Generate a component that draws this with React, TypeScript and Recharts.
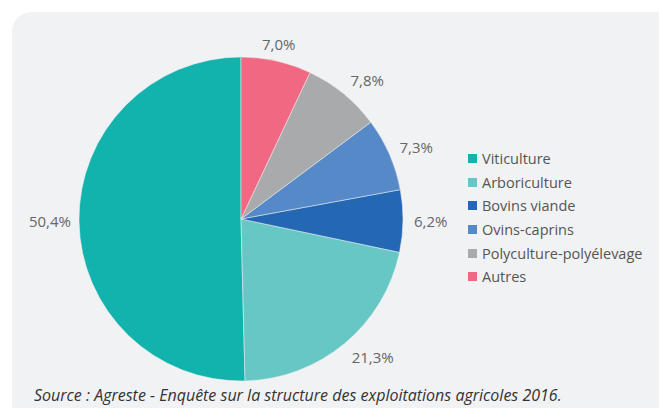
import { PieChart, Pie, Cell, Legend } from "recharts"

const categories = ["Viticulture", "Arboriculture", "Bovins viande", "Ovins-caprins", "Polyculture-polyélevage", "Autres"]
const shares = [50.4, 21.3, 6.2, 7.3, 7.8, 7.0]
const colors = ["#12b3ac", "#67c7c4", "#2467b3", "#5589c8", "#a8aaab", "#f06882"]

const data = categories.map((name, i) => ({ name, value: shares[i] }))

const RAD = Math.PI / 180
const FONT = "'Open Sans', sans-serif"

function renderLabel(props: any) {
  const { cx, cy, midAngle, outerRadius, value } = props
  const cos = Math.cos(-midAngle * RAD)
  const sin = Math.sin(-midAngle * RAD)
  // labels on the left sit a little closer to the pie
  const r = outerRadius + (cos < -0.3 ? 8 : 11)
  const x = cx + r * cos
  const y = cy + r * sin + sin * 6
  const anchor = cos > 0.3 ? "start" : cos < -0.3 ? "end" : "middle"
  return (
    <text x={x} y={y} fill="#666" fontSize={15} fontFamily={FONT} textAnchor={anchor} dominantBaseline="central">
      {value.toFixed(1).replace(".", ",")}%
    </text>
  )
}

function LegendList() {
  return (
    <div style={{ fontFamily: FONT, fontSize: 14.5, color: "#555" }}>
      {data.map((d, i) => (
        <div key={d.name} style={{ display: "flex", alignItems: "center", height: 23.6 }}>
          <span style={{ width: 9, height: 9, background: colors[i], marginRight: 5, display: "inline-block" }} />
          <span>{d.name}</span>
        </div>
      ))}
    </div>
  )
}

export default function App() {
  return (
    <div style={{ position: "relative", width: 667, height: 416, margin: -8, overflow: "hidden", background: "#fff" }}>
      <div
        style={{
          position: "absolute",
          left: 12,
          top: 12,
          width: 680,
          height: 430,
          borderRadius: 20,
          background: "#f1f2f4",
        }}
      />
      <div style={{ position: "absolute", left: 0, top: 0 }}>
        <PieChart width={667} height={416} margin={{ top: 0, right: 0, bottom: 0, left: 0 }}>
          <Pie
            data={data}
            dataKey="value"
            nameKey="name"
            cx={241}
            cy={219}
            outerRadius={162}
            startAngle={90}
            endAngle={450}
            stroke="#f1f2f4"
            strokeWidth={0.5}
            label={renderLabel}
            labelLine={false}
            isAnimationActive={false}
          >
            {data.map((d, i) => (
              <Cell key={d.name} fill={colors[i]} />
            ))}
          </Pie>
          <Legend
            layout="vertical"
            content={<LegendList />}
            wrapperStyle={{ left: 468, top: 147, width: 200 }}
          />
        </PieChart>
      </div>
      <div
        style={{
          position: "absolute",
          left: 34,
          top: 384,
          fontFamily: FONT,
          fontStyle: "italic",
          fontSize: 16,
          color: "#333",
          whiteSpace: "nowrap",
        }}
      >
        Source : Agreste - Enquête sur la structure des exploitations agricoles 2016.
      </div>
    </div>
  )
}
